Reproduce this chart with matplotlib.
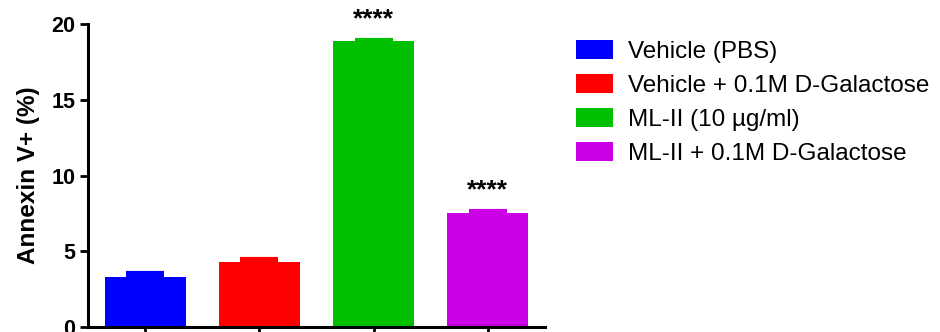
import matplotlib.pyplot as plt

plt.rcParams['font.family'] = ['Liberation Sans', 'DejaVu Sans']

# Annexin V+ data
groups = ["Vehicle (PBS)", "Vehicle + 0.1M D-Galactose",
          "ML-II (10 \u00b5g/ml)", "ML-II + 0.1M D-Galactose"]
means = [3.31, 4.30, 18.86, 7.54]
errors = [0.24, 0.20, 0.10, 0.13]
colors = ["#0000FF", "#FF0000", "#00C000", "#CC00E6"]
stars = ["", "", "****", "****"]

fig = plt.figure(figsize=(9.4, 3.32), dpi=100)
ax = fig.add_axes([88 / 940, 5 / 332, 457 / 940, 303 / 332])

x = range(len(groups))
bars = ax.bar(x, means, width=0.71, color=colors, label=groups, zorder=2)
for i in x:
    ax.errorbar(i, means[i], yerr=[[0], [errors[i]]], color=colors[i],
                capsize=13.5, capthick=3, elinewidth=2, zorder=3)
    if stars[i]:
        ax.text(i, means[i] + errors[i] + 1.35, stars[i], ha="center",
                va="center", fontsize=19, fontweight="bold", clip_on=False)

ax.set_xlim(-0.5, 3.5)
ax.set_ylim(0, 20)
ax.set_yticks([0, 5, 10, 15, 20])
ax.set_xticks(list(x))
ax.set_xticklabels([])
ax.set_ylabel("Annexin V+ (%)", fontsize=17.5, fontweight="bold", labelpad=8)
for lab in ax.get_yticklabels():
    lab.set_fontweight("bold")
ax.tick_params(axis="y", labelsize=15.5, width=2, length=6, pad=3)
ax.tick_params(axis="x", width=2, length=6)
for s in ["top", "right"]:
    ax.spines[s].set_visible(False)
for s in ["left", "bottom"]:
    ax.spines[s].set_linewidth(2.2)

fig.legend(handles=bars, labels=groups, loc="upper left",
           bbox_to_anchor=(566 / 940, 1 - 30 / 332), frameon=False,
           fontsize=17.5, handlelength=1.55, handleheight=0.85,
           handletextpad=0.6, labelspacing=0.45, borderaxespad=0)

plt.savefig("out.png", dpi=100)
